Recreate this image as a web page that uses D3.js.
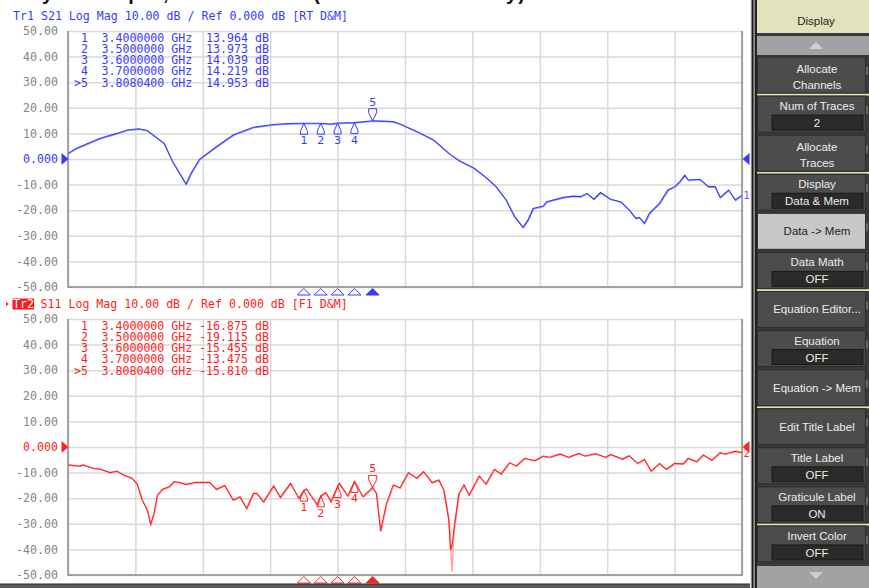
<!DOCTYPE html>
<html>
<head>
<meta charset="utf-8">
<script src="https://cdn.jsdelivr.net/npm/d3@7"></script>
<style>
  body { margin: 0; background: #fff; }
  svg { display: block; }
  .mono { font-family: "DejaVu Sans Mono", monospace; font-size: 11.6px; white-space: pre; }
  .menu { font-family: "Liberation Sans", Arial, sans-serif; font-size: 11.5px; }
</style>
</head>
<body>
<div id="chart"></div>
<script>
// frequency axis: 2 GHz .. 6 GHz, 10 divisions
const freqStart = 2.0, freqStop = 6.0;
const yTicks = [50, 40, 30, 20, 10, 0, -10, -20, -30, -40, -50];

// S21 trace (Tr1)
const s21Freq = [2.00, 2.05, 2.19, 2.29, 2.35, 2.42, 2.47, 2.57, 2.62, 2.70, 2.73, 2.78, 2.88, 2.98, 3.10, 3.22, 3.30,
  3.40, 3.50, 3.56, 3.60, 3.70, 3.80804, 3.87, 3.93, 3.97, 4.07, 4.17, 4.26, 4.32, 4.41, 4.48, 4.54, 4.60, 4.65, 4.70,
  4.73, 4.76, 4.82, 4.84, 4.94, 5.00, 5.04, 5.08, 5.12, 5.16, 5.22, 5.28, 5.33, 5.37, 5.39, 5.42, 5.45, 5.51, 5.56,
  5.60, 5.63, 5.66, 5.68, 5.75, 5.80, 5.84, 5.87, 5.92, 5.96, 6.00];
const s21Db = [2.2, 4.2, 8.1, 10.0, 11.3, 11.8, 11.1, 6.1, -1.0, -9.8, -5.6, -0.1, 4.8, 9.4, 12.4, 13.5, 13.8,
  13.964, 13.973, 13.7, 14.039, 14.219, 14.953, 14.8, 14.6, 13.7, 10.7, 7.4, 2.2, -0.6, -3.6, -7.2, -10.8, -16.0, -22.5, -26.7,
  -23.8, -19.3, -18.4, -16.7, -15.0, -14.5, -14.7, -13.4, -15.7, -13.1, -15.7, -16.7, -19.9, -23.2, -22.8, -25.1, -21.2, -17.3, -12.1,
  -10.8, -8.9, -6.3, -8.2, -7.9, -10.8, -10.8, -15.0, -12.1, -16.0, -14.1];

// S11 trace (Tr2)
const s11Freq = [2.00, 2.07, 2.09, 2.15, 2.19, 2.25, 2.29, 2.33, 2.38, 2.41, 2.44, 2.47, 2.49, 2.51, 2.53, 2.56, 2.60,
  2.63, 2.66, 2.70, 2.76, 2.84, 2.88, 2.93, 2.98, 3.02, 3.06, 3.10, 3.12, 3.16, 3.22, 3.26, 3.32, 3.37, 3.40, 3.415,
  3.48, 3.50, 3.53, 3.56, 3.60, 3.61, 3.66, 3.70, 3.75, 3.80804, 3.83, 3.855, 3.89, 3.93, 3.97, 4.02, 4.07, 4.11, 4.16,
  4.20, 4.23, 4.26, 4.27, 4.28, 4.29, 4.32, 4.35, 4.38, 4.44, 4.48, 4.53, 4.57, 4.62, 4.66, 4.71, 4.77, 4.82, 4.86,
  4.92, 4.97, 5.03, 5.07, 5.13, 5.19, 5.22, 5.29, 5.33, 5.38, 5.42, 5.46, 5.51, 5.55, 5.60, 5.65, 5.68, 5.73, 5.77,
  5.82, 5.87, 5.90, 5.96, 6.00];
const s11Db = [-7.0, -7.4, -7.0, -8.3, -8.6, -10.0, -9.4, -10.9, -12.2, -14.5, -20.7, -24.6, -30.2, -25.9, -18.8, -16.5, -15.5,
  -13.5, -13.8, -14.6, -13.8, -13.8, -16.5, -15.0, -20.7, -19.4, -24.0, -18.1, -18.1, -21.4, -15.2, -19.7, -14.2, -20.0, -16.875, -16.4,
  -22.7, -19.115, -17.8, -21.4, -15.455, -14.2, -19.1, -13.475, -19.4, -15.81, -18.1, -32.8, -22.0, -14.8, -15.9, -10.0, -12.2, -9.6, -13.9,
  -12.9, -16.8, -28.5, -40.2, -38.0, -32.4, -18.1, -14.8, -18.8, -11.3, -14.5, -8.7, -10.5, -6.1, -7.4, -4.4, -5.3, -3.5, -4.0,
  -2.7, -4.0, -2.5, -3.5, -2.6, -4.0, -2.9, -4.7, -3.4, -6.4, -4.8, -9.4, -6.4, -8.7, -6.4, -6.6, -4.4, -5.7, -3.1,
  -5.1, -2.2, -2.7, -1.6, -2.2];

// memory trace of S11 around the deep notch (goes deeper than data)
const s11MemFreq = [4.23, 4.26, 4.275, 4.28, 4.29, 4.32];
const s11MemDb = [-16.8, -28.5, -44.0, -48.7, -32.4, -18.1];

// markers
const markerIds = ["1", "2", "3", "4", "5"];
const markerFreq = [3.4, 3.5, 3.6, 3.7, 3.80804];
const markerFreqText = ["3.4000000", "3.5000000", "3.6000000", "3.7000000", "3.8080400"];
const s21Marker = [13.964, 13.973, 14.039, 14.219, 14.953];
const s11Marker = [-16.875, -19.115, -15.455, -13.475, -15.810];
const activeMarker = 4;

const W = 869, H = 588;
const svg = d3.select("#chart").append("svg").attr("width", W).attr("height", H);

// cut-off headline at very top
svg.append("text")
  .attr("x", 14).attr("y", -0.5)
  .attr("textLength", 511).attr("lengthAdjust", "spacing")
  .style("font-family", "Liberation Sans, Arial, sans-serif")
  .style("font-weight", "bold").style("font-size", "20px").style("fill", "#111")
  .text("Key Tx output, S21 and S11 (after D&M memory)");

const x = d3.scaleLinear().domain([freqStart, freqStop]).range([68, 742]);
const xDivs = d3.range(11).map(i => freqStart + i * (freqStop - freqStart) / 10);

function fmtTick(v) { return v === 0 ? "0.000" : v.toFixed(2); }

function drawPanel(opt) {
  const y = d3.scaleLinear().domain([-50, 50]).range([opt.bottom, opt.top]);
  const g = svg.append("g");

  // gridlines
  g.append("g")
    .attr("transform", `translate(${x(freqStart)},0)`)
    .call(d3.axisLeft(y).tickValues(yTicks).tickSize(-(x(freqStop) - x(freqStart))).tickFormat(""))
    .call(a => a.select(".domain").remove())
    .call(a => a.selectAll("line").attr("stroke", "#d9d9d9").attr("stroke-width", 1.5));
  g.append("g")
    .attr("transform", `translate(0,${opt.bottom})`)
    .call(d3.axisBottom(x).tickValues(xDivs).tickSize(-(opt.bottom - opt.top)).tickFormat(""))
    .call(a => a.select(".domain").remove())
    .call(a => a.selectAll("line").attr("stroke", "#d9d9d9").attr("stroke-width", 1.5));

  // frame
  g.append("path")
    .attr("d", `M${x(freqStart)},${opt.top}V${opt.bottom}H${x(freqStop)}V${opt.top}`)
    .attr("fill", "none").attr("stroke", "#8c8c8c").attr("stroke-width", 1.5);

  // y labels
  g.append("g")
    .attr("transform", `translate(${x(freqStart)},0)`)
    .call(d3.axisLeft(y).tickValues(yTicks).tickSize(0).tickPadding(10).tickFormat(fmtTick))
    .call(a => a.select(".domain").remove())
    .call(a => a.selectAll("text").attr("class", "mono")
      .style("fill", d => d === 0 ? opt.color : "#858585"));

  // reference arrows
  const y0 = y(0);
  g.append("path").attr("d", `M61.5,${y0 - 6}L68.5,${y0}L61.5,${y0 + 6}Z`).attr("fill", opt.color);
  g.append("path").attr("d", `M749.5,${y0 - 6}L742.5,${y0}L749.5,${y0 + 6}Z`).attr("fill", opt.color);

  // title line
  if (opt.active) {
    g.append("path").attr("d", `M6,${opt.titleY - 6}L9,${opt.titleY - 4}L6,${opt.titleY - 2}Z`).attr("fill", opt.color);
    g.append("rect").attr("x", 12.5).attr("y", opt.titleY - 9.5).attr("width", 21.5).attr("height", 11).attr("fill", "#ff1a1a");
    g.append("text").attr("class", "mono").attr("x", 13).attr("y", opt.titleY).style("fill", "#fff").text(opt.trace);
    g.append("text").attr("class", "mono").attr("x", 40.5).attr("y", opt.titleY).style("fill", opt.color).text(opt.title);
  } else {
    g.append("text").attr("class", "mono").attr("x", 13).attr("y", opt.titleY)
      .style("fill", opt.color).text(opt.trace + " " + opt.title);
  }

  // marker readout table
  const rowY = i => opt.top + 10.5 + i * 11.3;
  markerIds.forEach((id, i) => {
    const ty = rowY(i);
    g.append("text").attr("class", "mono").attr("x", 88).attr("y", ty).attr("text-anchor", "end")
      .style("fill", opt.color).text((i === activeMarker ? ">" : "") + id);
    g.append("text").attr("class", "mono").attr("x", 101.5).attr("y", ty)
      .style("fill", opt.color).text(markerFreqText[i] + " GHz");
    g.append("text").attr("class", "mono").attr("x", 248).attr("y", ty).attr("text-anchor", "end")
      .style("fill", opt.color).text(opt.marker[i].toFixed(3));
    g.append("text").attr("class", "mono").attr("x", 255).attr("y", ty)
      .style("fill", opt.color).text("dB");
  });

  const line = d3.line().x(d => x(d[0])).y(d => y(d[1]));

  // memory trace (lighter)
  if (opt.memFreq) {
    g.append("path").datum(d3.zip(opt.memFreq, opt.memDb))
      .attr("d", line).attr("fill", "none")
      .attr("stroke", opt.memColor).attr("stroke-width", 1.3);
  }
  g.append("path").datum(d3.zip(opt.freq, opt.db))
    .attr("d", line).attr("fill", "none")
    .attr("stroke", opt.memColor).attr("stroke-width", 1.2)
    .attr("transform", "translate(0.6,0.6)");
  g.append("path").datum(d3.zip(opt.freq, opt.db))
    .attr("d", line).attr("fill", "none")
    .attr("stroke", opt.color).attr("stroke-width", 1.1);

  // trace end label
  g.append("text").attr("x", 743.5).attr("y", y(opt.db[opt.db.length - 1]) + 4)
    .style("font-family", "DejaVu Sans, sans-serif").style("font-size", "10px")
    .style("fill", opt.endColor).text(opt.traceNo);

  // markers on the trace
  markerFreq.forEach((f, i) => {
    const mx = x(f), my = y(opt.marker[i]);
    const up = i !== activeMarker;
    const mg = g.append("g").attr("transform", `translate(${mx},${my})`);
    mg.append("path")
      .attr("d", up ? "M0,0L-3.5,8L-3.5,11L3.5,11L3.5,8Z" : "M0,0L-4,-8L-4,-12L4,-12L4,-8Z")
      .attr("fill", "none").attr("stroke", opt.color).attr("stroke-width", 1);
    mg.append("text").attr("x", 0).attr("y", up ? 21 : -15).attr("text-anchor", "middle")
      .style("font-family", "DejaVu Sans, sans-serif").style("font-size", "11px")
      .style("fill", opt.color).text(markerIds[i]);

    // position indicators under the grid
    const by = opt.bottom + 1.5;
    g.append("path")
      .attr("d", `M${mx},${by}L${mx - 6.5},${by + 6.5}L${mx + 6.5},${by + 6.5}Z`)
      .attr("fill", up ? "#fff" : opt.color).attr("stroke", opt.color).attr("stroke-width", 1);
  });
}

drawPanel({
  top: 31, bottom: 287, titleY: 19.5, color: "#3a3aff", memColor: "#9c9cff", endColor: "#8a3cff",
  trace: "Tr1", traceNo: "1", title: "S21 Log Mag 10.00 dB / Ref 0.000 dB [RT D&M]",
  freq: s21Freq, db: s21Db, marker: s21Marker, active: false
});
drawPanel({
  top: 319, bottom: 575, titleY: 308, color: "#ff2222", memColor: "#ff9c9c", endColor: "#ff2222",
  trace: "Tr2", traceNo: "2", title: "S11 Log Mag 10.00 dB / Ref 0.000 dB [F1 D&M]",
  freq: s11Freq, db: s11Db, marker: s11Marker, active: true,
  memFreq: s11MemFreq, memDb: s11MemDb
});

// window bottom strip
svg.append("rect").attr("x", 0).attr("y", 584).attr("width", 752).attr("height", 4).attr("fill", "#5c5c5c");
svg.append("rect").attr("x", 0).attr("y", 583.5).attr("width", 752).attr("height", 1).attr("fill", "#2a2a2a");

// ---- softkey side menu ----
const menuItems = [
  { lines: ["Allocate", "Channels"] },
  { lines: ["Num of Traces"], value: "2" },
  { lines: ["Allocate", "Traces"] },
  { lines: ["Display"], value: "Data & Mem" },
  { lines: ["Data -> Mem"], light: true },
  { lines: ["Data Math"], value: "OFF" },
  { lines: ["Equation Editor..."] },
  { lines: ["Equation"], value: "OFF" },
  { lines: ["Equation -> Mem"] },
  { lines: ["Edit Title Label"] },
  { lines: ["Title Label"], value: "OFF" },
  { lines: ["Graticule Label"], value: "ON" },
  { lines: ["Invert Color"], value: "OFF" }
];
const groupEnds = [0, 2, 5, 8, 11];

const side = svg.append("g");
side.append("rect").attr("x", 750).attr("y", 0).attr("width", 119).attr("height", H).attr("fill", "#3a3a3a");
side.append("rect").attr("x", 750).attr("y", 0).attr("width", 1.7).attr("height", H).attr("fill", "#e8e8e8");
side.append("rect").attr("x", 751.7).attr("y", 0).attr("width", 1.7).attr("height", H).attr("fill", "#1e1e1e");
side.append("rect").attr("x", 753.4).attr("y", 0).attr("width", 1.7).attr("height", H).attr("fill", "#8e8e8e");
side.append("rect").attr("x", 755.1).attr("y", 0).attr("width", 1.7).attr("height", H).attr("fill", "#1e1e1e");

// header
side.append("rect").attr("x", 757).attr("y", 0).attr("width", 112).attr("height", 33).attr("fill", "#e2e2bc");
side.append("text").attr("class", "menu").attr("x", 816).attr("y", 25).attr("text-anchor", "middle")
  .style("fill", "#1e1e1e").text("Display");

// scroll bars
side.append("rect").attr("x", 757).attr("y", 36).attr("width", 112).attr("height", 19).attr("fill", "#a2a2a2");
side.append("path").attr("d", "M816,42L823,49L809,49Z").attr("fill", "#cfcfcf");
side.append("rect").attr("x", 757).attr("y", 566).attr("width", 112).attr("height", 22).attr("fill", "#a2a2a2");
side.append("path").attr("d", "M816,579L823,572L809,572Z").attr("fill", "#cfcfcf");

const btnTop = 57, btnStep = 39.08, btnH = 36;
menuItems.forEach((m, i) => {
  const by = btnTop + i * btnStep;
  side.append("rect").attr("x", 757.5).attr("y", by).attr("width", 108).attr("height", btnH)
    .attr("fill", m.light ? "#c8c8c8" : "#4c4c4c").attr("stroke", "#2c2c2c");
  side.append("rect").attr("x", 866).attr("y", by + 10).attr("width", 2).attr("height", 8).attr("fill", "#6a6a6a");
  const col = m.light ? "#1e1e1e" : "#ececec";
  if (m.value) {
    side.append("text").attr("class", "menu").attr("x", 817).attr("y", by + 14).attr("text-anchor", "middle")
      .style("fill", col).text(m.lines[0]);
    side.append("rect").attr("x", 772).attr("y", by + 19).attr("width", 91).attr("height", 15)
      .attr("fill", "#2a2a2a").attr("stroke", "#1a1a1a");
    side.append("text").attr("class", "menu").attr("x", 817).attr("y", by + 31).attr("text-anchor", "middle")
      .style("fill", col).text(m.value);
  } else if (m.lines.length === 2) {
    side.append("text").attr("class", "menu").attr("x", 817).attr("y", by + 16).attr("text-anchor", "middle")
      .style("fill", col).text(m.lines[0]);
    side.append("text").attr("class", "menu").attr("x", 817).attr("y", by + 32).attr("text-anchor", "middle")
      .style("fill", col).text(m.lines[1]);
  } else {
    side.append("text").attr("class", "menu").attr("x", 817).attr("y", by + 22).attr("text-anchor", "middle")
      .style("fill", col).text(m.lines[0]);
  }
  if (groupEnds.includes(i)) {
    side.append("rect").attr("x", 757).attr("y", by + btnH + 0.8).attr("width", 112).attr("height", 1.8)
      .attr("fill", "#e4e4ac");
  }
});
</script>
</body>
</html>
